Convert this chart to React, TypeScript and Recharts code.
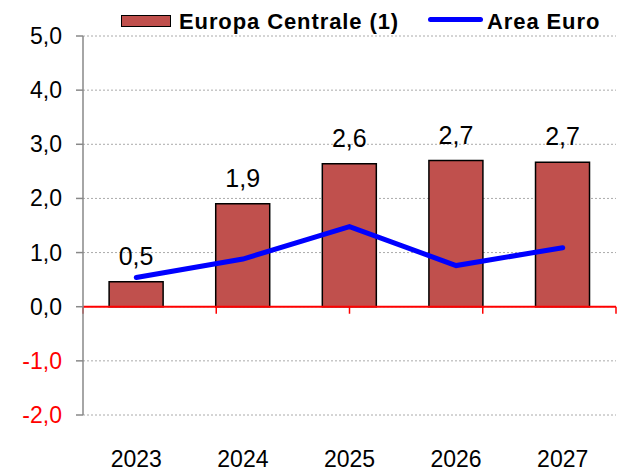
import React from 'react';
import {
	ComposedChart,
	Bar,
	Line,
	XAxis,
	YAxis,
	CartesianGrid,
	ReferenceLine,
	LabelList,
} from 'recharts';

const years = ['2023', '2024', '2025', '2026', '2027'];
const europaCentrale = [0.46, 1.9, 2.64, 2.7, 2.67];
const areaEuro = [0.54, 0.88, 1.48, 0.76, 1.09];
const yTicks = [-2, -1, 0, 1, 2, 3, 4, 5];
const seriesNames = ['Europa Centrale (1)', 'Area Euro'];

const data = years.map((year, i) => ({
	year,
	europa: europaCentrale[i],
	euro: areaEuro[i],
}));

const FONT = '"Liberation Sans", Arial, sans-serif';
const BAR_COLOR = '#C0504D';
const LINE_COLOR = '#0000FF';

const fmt = (v: number) => v.toFixed(1).replace('.', ',');

const YTick = (props: any) => {
	const { x, y, payload } = props;
	const v = payload.value as number;
	return (
		<text
			x={x}
			y={y}
			dy="0.35em"
			textAnchor="end"
			fontSize={23}
			fontFamily={FONT}
			fill={v < 0 ? '#FF0000' : '#000000'}
		>
			{fmt(v)}
		</text>
	);
};

export default function App() {
	return (
		<div style={{ position: 'absolute', left: 0, top: 0, width: 617, height: 472, background: '#fff' }}>
			<ComposedChart
				width={617}
				height={472}
				data={data}
				margin={{ top: 36, right: 1, bottom: 0, left: 0 }}
				barCategoryGap="24.5%"
			>
				<CartesianGrid vertical={false} stroke="#aaaaaa" strokeDasharray="2 2" />
				<XAxis
					dataKey="year"
					height={57}
					axisLine={false}
					tickLine={false}
					tickSize={0}
					tickMargin={36}
					tick={{ fontSize: 23, fontFamily: FONT, fill: '#000' }}
				/>
				<XAxis xAxisId="num" type="number" domain={[0, 5]} allowDataOverflow hide />
				<YAxis
					width={83}
					domain={[-2, 5]}
					ticks={yTicks}
					interval={0}
					allowDataOverflow
					axisLine={{ stroke: '#888888', strokeWidth: 1.5 }}
					tickLine={{ stroke: '#888888', strokeWidth: 1.5 }}
					tickSize={7}
					tickMargin={14}
					tick={<YTick />}
				/>
				<Bar
					dataKey="europa"
					name={seriesNames[0]}
					fill={BAR_COLOR}
					stroke="#000"
					strokeWidth={1.5}
					isAnimationActive={false}
				>
					<LabelList
						dataKey="europa"
						position="top"
						offset={17}
						formatter={(v: any) => fmt(Number(v))}
						style={{ fontSize: 25, fontFamily: FONT, fill: '#000' }}
					/>
				</Bar>
				<ReferenceLine y={0} stroke="#FF0000" strokeWidth={2} />
				{[0, 1, 2, 3, 4, 5].map((i) => (
					<ReferenceLine
						key={i}
						xAxisId="num"
						segment={[
							{ x: i, y: 0 },
							{ x: i, y: -0.13 },
						]}
						stroke="#FF0000"
						strokeWidth={1.5}
						ifOverflow="visible"
					/>
				))}
				<Line
					dataKey="euro"
					name={seriesNames[1]}
					stroke={LINE_COLOR}
					strokeWidth={5}
					strokeLinecap="round"
					dot={false}
					activeDot={false}
					isAnimationActive={false}
				/>
			</ComposedChart>
			<div
				style={{
					position: 'absolute',
					left: 0,
					top: 0,
					width: 617,
					height: 40,
					fontFamily: FONT,
					fontWeight: 'bold',
					fontSize: 22,
					letterSpacing: 0.9,
					color: '#000',
				}}
			>
				<div
					style={{
						position: 'absolute',
						left: 121,
						top: 15,
						width: 48,
						height: 10,
						background: BAR_COLOR,
						border: '1.5px solid #000',
					}}
				/>
				<span style={{ position: 'absolute', left: 179, top: 8, lineHeight: '27px', whiteSpace: 'nowrap' }}>
					{seriesNames[0]}
				</span>
				<div
					style={{
						position: 'absolute',
						left: 428,
						top: 17,
						width: 55,
						height: 5,
						borderRadius: 3,
						background: LINE_COLOR,
					}}
				/>
				<span style={{ position: 'absolute', left: 487, top: 8, lineHeight: '27px', whiteSpace: 'nowrap' }}>
					{seriesNames[1]}
				</span>
			</div>
		</div>
	);
}
